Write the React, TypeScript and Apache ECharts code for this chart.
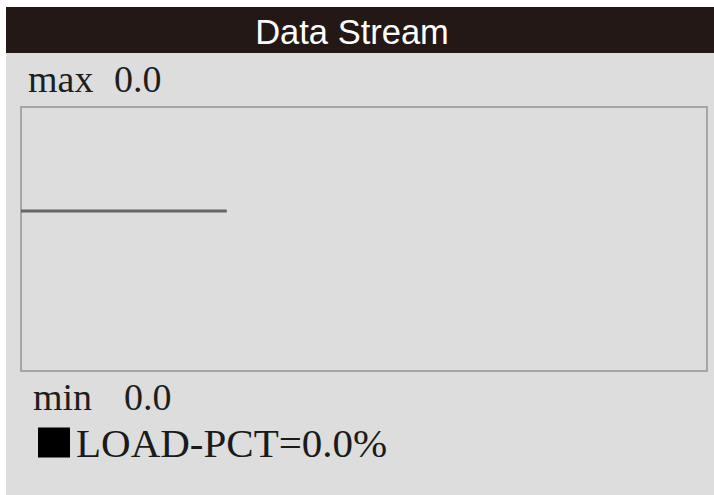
import React, { useEffect, useRef } from "react";
import * as echarts from "echarts";

const title = "Data Stream";
const seriesName = "LOAD-PCT";
const unit = "%";
const maxValue = 0.0;
const minValue = 0.0;
const currentValue = 0.0;
const xCategories = ["0", "1", "2", "3", "4", "5", "6", "7", "8", "9", "10"];
const loadPct = [0.0, 0.0, 0.0, 0.0];

const SERIF = "'Liberation Serif', 'Times New Roman', serif";
const SANS = "'Liberation Sans', Arial, sans-serif";

export default function App() {
  const ref = useRef<HTMLDivElement>(null);
  useEffect(() => {
    if (!ref.current) return;
    const chart = echarts.init(ref.current, undefined, { renderer: "svg" });
    chart.setOption({
      animation: false,
      backgroundColor: "#ffffff",
      graphic: [
        { type: "rect", z: -10, shape: { x: 6, y: 53, width: 708, height: 442 }, style: { fill: "#dcdddc" } },
        { type: "rect", z: -10, shape: { x: 6, y: 7, width: 708, height: 46 }, style: { fill: "#231815" } },
        {
          type: "text", x: 352, y: 32,
          style: { text: title, font: `34.5px ${SANS}`, fill: "#ffffff", align: "center", verticalAlign: "middle" },
        },
        {
          type: "text", x: 28, y: 79,
          style: { text: "max", font: `38px ${SERIF}`, fill: "#1e1e1e", align: "left", verticalAlign: "middle" },
        },
        {
          type: "text", x: 114, y: 79,
          style: { text: maxValue.toFixed(1), font: `38px ${SERIF}`, fill: "#1e1e1e", align: "left", verticalAlign: "middle" },
        },
        {
          type: "text", x: 33, y: 397,
          style: { text: "min", font: `38px ${SERIF}`, fill: "#1e1e1e", align: "left", verticalAlign: "middle" },
        },
        {
          type: "text", x: 124, y: 397,
          style: { text: minValue.toFixed(1), font: `38px ${SERIF}`, fill: "#1e1e1e", align: "left", verticalAlign: "middle" },
        },
      ],
      legend: {
        left: 38,
        top: 422,
        icon: "rect",
        itemWidth: 32,
        itemHeight: 30,
        itemGap: 10,
        padding: 0,
        itemStyle: { color: "#000000", borderWidth: 0 },
        lineStyle: { width: 0 },
        data: [seriesName],
        formatter: (name: string) => `${name}=${currentValue.toFixed(1)}${unit}`,
        textStyle: { fontFamily: SERIF, fontSize: 41, color: "#1a1a1a", padding: [0, 0, 0, 1] },
      },
      grid: {
        left: 21,
        top: 107,
        width: 686,
        height: 264,
        show: true,
        backgroundColor: "transparent",
        borderColor: "#a6a6a6",
        borderWidth: 2,
        containLabel: false,
      },
      xAxis: {
        type: "category",
        data: xCategories,
        boundaryGap: false,
        show: false,
      },
      yAxis: {
        type: "value",
        min: -1,
        max: 0.65,
        show: false,
        splitLine: { show: false },
      },
      series: [
        {
          name: seriesName,
          type: "line",
          data: loadPct,
          showSymbol: false,
          symbol: "none",
          lineStyle: { color: "#666666", width: 3 },
          itemStyle: { color: "#666666" },
        },
      ],
    });
    return () => chart.dispose();
  }, []);
  return (
    <div
      ref={ref}
      style={{ position: "absolute", left: 0, top: 0, width: 714, height: 495 }}
    />
  );
}
